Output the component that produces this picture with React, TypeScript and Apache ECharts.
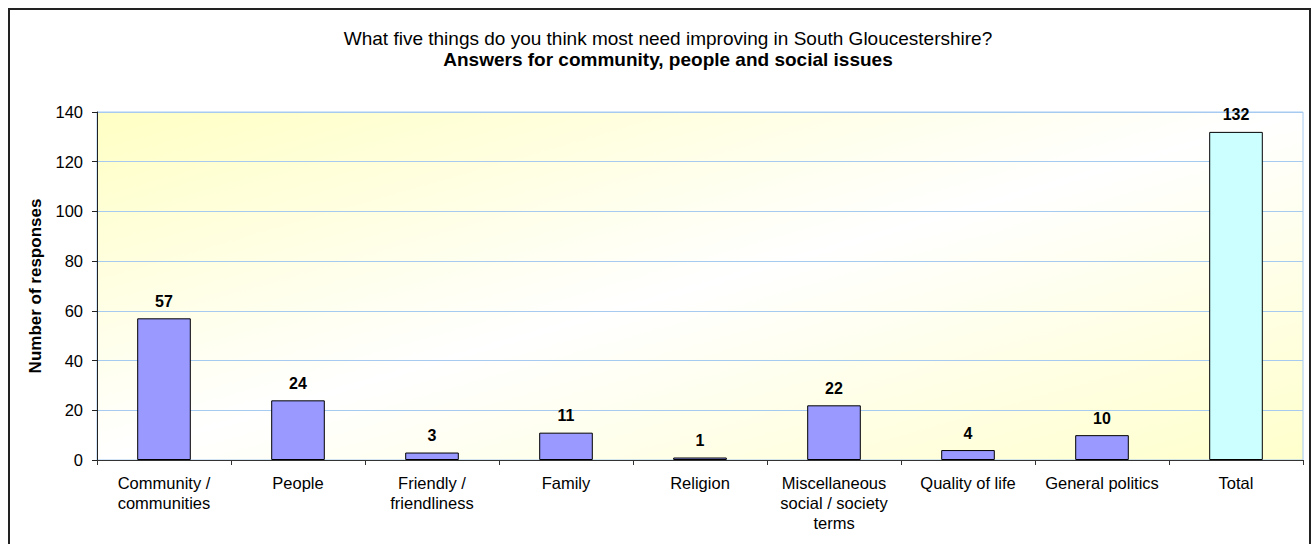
import React, { useEffect, useRef } from "react";
import * as echarts from "echarts";

const categories = [
  "Community /\ncommunities",
  "People",
  "Friendly /\nfriendliness",
  "Family",
  "Religion",
  "Miscellaneous\nsocial / society\nterms",
  "Quality of life",
  "General politics",
  "Total",
];
const responses = [57, 24, 3, 11, 1, 22, 4, 10, 132];
const yTicks = { min: 0, max: 140, interval: 20 };
const titleLine1 = "What five things do you think most need improving in South Gloucestershire?";
const titleLine2 = "Answers for community, people and social issues";
const yAxisName = "Number of responses";

export default function App() {
  const ref = useRef<HTMLDivElement>(null);
  useEffect(() => {
    if (!ref.current) return;
    const chart = echarts.init(ref.current, undefined, { renderer: "svg" });
    const font = "'Liberation Sans', Arial, sans-serif";
    chart.setOption({
      animation: false,
      backgroundColor: "#ffffff",
      textStyle: { fontFamily: font },
      title: {
        text: titleLine1,
        subtext: titleLine2,
        left: 663,
        textAlign: "center",
        top: 23,
        itemGap: 1,
        textStyle: { fontFamily: font, fontSize: 19, lineHeight: 20, fontWeight: "normal", color: "#000" },
        subtextStyle: { fontFamily: font, fontSize: 19, lineHeight: 20, fontWeight: "bold", color: "#000" },
      },
      graphic: [
        {
          type: "rect",
          shape: { x: 9, y: 9, width: 1301, height: 560 },
          style: { fill: "none", stroke: "#222", lineWidth: 2 },
          silent: true,
        },
      ],
      grid: {
        left: 97,
        right: 13,
        top: 112,
        bottom: 84,
        show: true,
        borderColor: "#a6caf0",
        borderWidth: 1,
        backgroundColor: new echarts.graphic.LinearGradient(0, 0, 1, 1, [
          { offset: 0, color: "#ffffc4" },
          { offset: 0.5, color: "#ffffff" },
          { offset: 1, color: "#ffffcc" },
        ]),
      },
      xAxis: {
        type: "category",
        data: categories,
        axisLine: { show: true, lineStyle: { color: "#333", width: 1 } },
        axisTick: { show: true, alignWithLabel: false, length: 5, lineStyle: { color: "#333" } },
        axisLabel: {
          interval: 0,
          margin: 13,
          fontSize: 16.5,
          lineHeight: 20,
          color: "#000",
          fontFamily: font,
        },
        splitLine: { show: false },
      },
      yAxis: {
        type: "value",
        min: yTicks.min,
        max: yTicks.max,
        interval: yTicks.interval,
        name: yAxisName,
        nameLocation: "middle",
        nameRotate: 90,
        nameGap: 53,
        nameTextStyle: { fontFamily: font, fontSize: 17, fontWeight: "bold", color: "#000" },
        axisLine: { show: true, lineStyle: { color: "#222", width: 1 } },
        axisTick: { show: true, length: 5, lineStyle: { color: "#222" } },
        axisLabel: { fontSize: 16.5, color: "#000", margin: 14, fontFamily: font },
        splitLine: { show: true, lineStyle: { color: "#a6caf0", width: 1 } },
      },
      series: [
        {
          type: "bar",
          barWidth: "40%",
          data: responses.map((v, i) => ({
            value: v,
            itemStyle: {
              color: categories[i] === "Total" ? "#ccffff" : "#9999ff",
              borderColor: "#000",
              borderWidth: 1,
            },
          })),
          label: {
            show: true,
            position: "top",
            distance: 9,
            fontSize: 16,
            fontWeight: "bold",
            color: "#000",
            fontFamily: font,
          },
        },
      ],
    });
    return () => chart.dispose();
  }, []);
  return (
    <div
      ref={ref}
      style={{ position: "fixed", left: 0, top: 0, width: 1316, height: 544 }}
    />
  );
}
